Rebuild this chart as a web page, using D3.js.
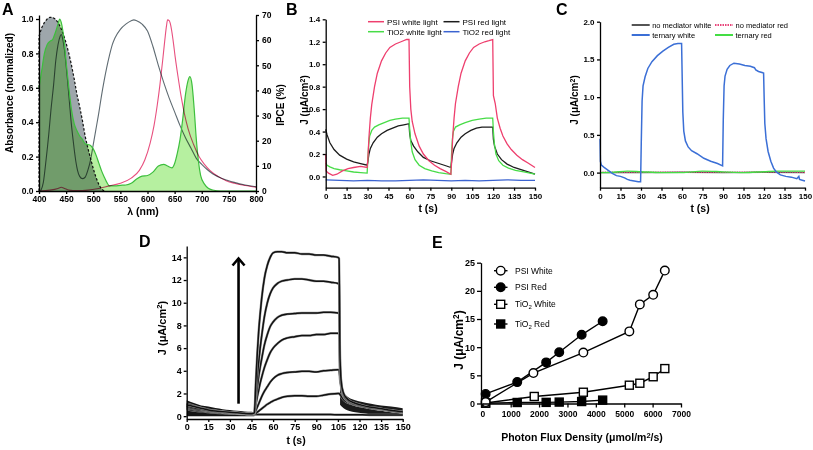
<!DOCTYPE html>
<html><head><meta charset="utf-8">
<script src="https://cdn.jsdelivr.net/npm/d3@7"></script>
<style>body{margin:0;background:#fff;} svg{display:block;background:#fff;}</style>
</head><body>
<script>
// ---------------- DATA ----------------
// Panel A: spectra [wavelength nm, normalized value]
const absTiO2 = [[400,0.9],[405,0.95],[410,0.98],[415,1.0],[420,1.01],[425,1.01],[430,1.0],[435,0.98],[440,0.95],[445,0.91],[450,0.86],[455,0.8],[460,0.73],[465,0.65],[470,0.56],[475,0.49],[480,0.41],[485,0.32],[490,0.25],[495,0.19],[500,0.13],[505,0.08],[510,0.04],[515,0.012],[520,0]];
const absPSI = [[400,0.6],[405,0.7],[410,0.8],[415,0.85],[420,0.87],[425,0.88],[430,0.92],[435,0.97],[438,1.0],[441,0.98],[444,0.93],[447,0.85],[450,0.75],[455,0.6],[460,0.47],[465,0.39],[470,0.35],[475,0.32],[480,0.3],[485,0.275],[490,0.27],[495,0.265],[500,0.245],[505,0.21],[510,0.165],[515,0.12],[520,0.083],[525,0.05],[530,0.03],[540,0.03],[550,0.033],[560,0.035],[570,0.045],[580,0.07],[590,0.087],[600,0.09],[610,0.11],[620,0.145],[630,0.155],[637,0.145],[645,0.135],[650,0.16],[655,0.22],[660,0.3],[665,0.42],[670,0.56],[675,0.645],[678,0.665],[682,0.62],[686,0.48],[690,0.3],[694,0.17],[698,0.09],[705,0.04],[712,0.016],[720,0.006],[735,0],[800,0]];
const ipceGray = [[403,0],[408,0.05],[413,0.18],[418,0.33],[422,0.47],[427,0.62],[431,0.76],[435,0.85],[439,0.9],[441,0.91],[444,0.88],[447,0.82],[450,0.73],[453,0.63],[456,0.52],[459,0.41],[462,0.32],[465,0.24],[468,0.17],[471,0.12],[475,0.085],[480,0.072],[485,0.08],[490,0.12],[495,0.18],[500,0.27],[505,0.36],[510,0.45],[515,0.55],[520,0.64],[525,0.72],[530,0.79],[535,0.85],[540,0.89],[550,0.94],[560,0.97],[570,0.99],[575,0.995],[580,0.99],[590,0.97],[600,0.93],[610,0.84],[620,0.73],[630,0.63],[640,0.54],[650,0.46],[660,0.38],[670,0.31],[680,0.25],[690,0.19],[700,0.155],[710,0.125],[720,0.1],[740,0.07],[760,0.05],[780,0.035],[800,0.025]];
const ipcePink = [[400,0],[420,0.005],[435,0.015],[441,0.022],[447,0.015],[455,0.005],[470,0.002],[490,0.005],[510,0.015],[530,0.03],[550,0.045],[570,0.075],[585,0.12],[595,0.18],[605,0.28],[612,0.38],[618,0.5],[623,0.62],[628,0.76],[632,0.88],[635,0.96],[637,0.995],[640,0.99],[643,0.96],[647,0.88],[651,0.78],[656,0.67],[662,0.55],[668,0.45],[675,0.36],[685,0.27],[695,0.2],[705,0.155],[715,0.12],[730,0.085],[745,0.06],[760,0.045],[780,0.032],[800,0.022]];
const ticksAx = [400,450,500,550,600,650,700,750,800];
const ticksAy = [0,0.2,0.4,0.6,0.8,1.0];
const ticksAy2 = [0,10,20,30,40,50,60,70];

// Panel B: [t (s), J]
const bPsiWhite = [[0,0.2],[0.3,0.05],[2,0.03],[5,0.01],[8,0.02],[12,0.05],[16,0.07],[20,0.08],[25,0.09],[29.7,0.08],[30.2,0.15],[31,0.35],[32,0.52],[33,0.64],[35,0.8],[37,0.92],[40,1.03],[43,1.1],[46,1.15],[50,1.18],[54,1.2],[58,1.22],[59.7,1.22],[60.2,0.8],[61,0.6],[62,0.49],[64,0.38],[67,0.27],[70,0.2],[74,0.14],[78,0.1],[82,0.07],[86,0.045],[89.7,0.02],[90.2,0.12],[91,0.35],[92,0.52],[93,0.65],[95,0.8],[97,0.92],[100,1.03],[103,1.1],[106,1.15],[110,1.18],[114,1.2],[117,1.21],[119.7,1.22],[120.2,0.72],[121.5,0.65],[123,0.52],[125,0.43],[127,0.36],[130,0.29],[133,0.24],[137,0.19],[141,0.15],[145,0.12],[150,0.08]];
const bPsiRed = [[0,0.42],[1,0.37],[3,0.3],[6,0.24],[10,0.19],[15,0.155],[20,0.13],[25,0.115],[29.7,0.1],[30.2,0.13],[31,0.2],[32,0.25],[34,0.3],[37,0.35],[40,0.38],[44,0.41],[48,0.43],[52,0.45],[56,0.46],[59.7,0.47],[60.2,0.38],[61,0.32],[63,0.27],[66,0.22],[70,0.17],[75,0.14],[80,0.12],[85,0.1],[89.7,0.08],[90.2,0.13],[91,0.2],[92,0.25],[94,0.3],[97,0.35],[100,0.38],[104,0.41],[108,0.43],[112,0.44],[116,0.44],[119.7,0.44],[120.2,0.33],[121,0.27],[123,0.2],[126,0.15],[130,0.11],[135,0.08],[140,0.06],[145,0.04],[150,0.02]];
const bTiO2White = [[0,0.12],[1,0.1],[3,0.085],[6,0.07],[10,0.06],[15,0.05],[20,0.04],[25,0.035],[29.7,0.03],[30.2,0.15],[30.8,0.28],[31.5,0.36],[33,0.41],[35,0.44],[38,0.46],[42,0.48],[46,0.5],[50,0.51],[55,0.52],[59.7,0.52],[60.2,0.42],[60.8,0.32],[62,0.22],[64,0.15],[67,0.1],[71,0.07],[76,0.05],[81,0.035],[86,0.025],[89.7,0.02],[90.2,0.2],[90.8,0.33],[91.5,0.4],[93,0.44],[96,0.46],[100,0.48],[105,0.5],[110,0.51],[115,0.52],[119.7,0.52],[120.2,0.4],[120.8,0.3],[122,0.2],[124,0.14],[127,0.1],[131,0.075],[136,0.055],[142,0.04],[150,0.02]];
const bTiO2Red = [[0,-0.03],[10,-0.035],[20,-0.04],[30,-0.035],[40,-0.04],[50,-0.04],[60,-0.035],[70,-0.03],[80,-0.035],[90,-0.04],[100,-0.035],[110,-0.04],[120,-0.035],[130,-0.03],[140,-0.035],[150,-0.035]];
const ticksT = [0,15,30,45,60,75,90,105,120,135,150];
const ticksBy = [0,0.2,0.4,0.6,0.8,1.0,1.2,1.4];
const legendB = ["PSI white light","PSI red light","TiO2 white light","TiO2 red light"];

// Panel C
const cTernaryWhite = [[0,0.45],[0.3,0.15],[1,0.1],[3,0.07],[6,0.03],[9,-0.01],[12,-0.04],[15,-0.05],[18,-0.07],[20,-0.09],[22,-0.1],[25,-0.11],[28,-0.12],[29.7,-0.12],[30.2,0.4],[30.8,0.95],[31.5,1.15],[33,1.27],[35,1.38],[38,1.47],[42,1.55],[46,1.61],[50,1.66],[54,1.7],[57,1.71],[59.7,1.71],[60.1,1.3],[60.6,0.8],[61.3,0.55],[62.5,0.42],[64.5,0.34],[67,0.29],[71,0.25],[76,0.19],[81,0.15],[86,0.12],[89.7,0.09],[90.2,0.7],[90.8,1.15],[91.5,1.28],[93,1.37],[95,1.42],[98,1.45],[102,1.44],[106,1.42],[110,1.41],[113,1.39],[114,1.36],[116,1.34],[119.7,1.32],[120.1,1.0],[120.6,0.65],[121.5,0.45],[123,0.28],[125,0.15],[127,0.06],[129,0.01],[132,-0.03],[136,-0.05],[140,-0.06],[144,-0.08],[145.5,-0.05],[146,-0.09],[148,-0.1],[150,-0.11]];
const cNoMedWhite = [[0,0],[30,0.0],[60,0.005],[90,0.0],[120,0.005],[150,0.0]];
const cNoMedRed = [[0,0.005],[30,0.005],[60,0.005],[90,0.005],[120,0.008],[150,0.005]];
const cTernaryRed = [[0,0.0],[10,0.005],[20,0.02],[30,0.012],[45,0.0],[60,0.0],[75,0.02],[90,0.01],[105,0.0],[120,0.012],[130,0.02],[150,0.02]];
const ticksCy = [0,0.5,1.0,1.5,2.0];
const legendC = ["no mediator white","no mediator red","ternary white","ternary red"];

// Panel D: common time base and 7 traces
const tD = [0,5,10,15,20,25,30,35,40,45,47,48,49,50,51,52,54,56,58,60,63,66,70,75,80,85,90,95,100,105,105.8,106.5,107.5,109,111,114,118,122,127,133,140,150];
const jD1 = [1.0,0.85,0.7,0.55,0.45,0.4,0.35,0.3,0.25,0.22,0.3,3.0,5.5,7.5,9.0,10.3,12.2,13.3,14.0,14.4,14.5,14.5,14.4,14.4,14.3,14.3,14.2,14.2,14.1,14.0,13.9,5.0,2.8,2.0,1.6,1.3,1.1,0.95,0.8,0.7,0.55,0.4];
const jD2 = [0.9,0.75,0.62,0.5,0.42,0.37,0.32,0.28,0.24,0.2,0.3,2.0,3.5,4.8,6.0,7.0,8.8,10.0,10.8,11.3,11.7,11.9,12.0,12.1,12.1,12.0,11.9,11.9,11.8,11.7,11.6,4.5,2.7,1.9,1.5,1.25,1.05,0.9,0.75,0.65,0.5,0.35];
const jD3 = [0.8,0.68,0.56,0.46,0.4,0.35,0.3,0.26,0.22,0.2,0.3,1.5,2.5,3.5,4.3,5.0,6.3,7.2,7.9,8.3,8.7,8.9,9.0,9.05,9.1,9.1,9.1,9.15,9.15,9.1,9.0,4.2,2.6,1.8,1.45,1.2,1.0,0.88,0.75,0.62,0.5,0.35];
const jD4 = [1.1,0.9,0.72,0.58,0.48,0.4,0.34,0.28,0.24,0.2,0.25,1.0,1.7,2.3,2.9,3.4,4.3,5.0,5.6,6.0,6.4,6.7,6.9,7.0,7.1,7.1,7.2,7.2,7.3,7.3,7.2,3.8,2.5,1.8,1.4,1.15,0.95,0.85,0.72,0.6,0.48,0.33];
const jD5 = [0.7,0.6,0.5,0.42,0.36,0.32,0.28,0.24,0.2,0.18,0.2,0.5,0.8,1.1,1.4,1.7,2.2,2.6,3.0,3.3,3.6,3.75,3.85,3.9,3.95,3.95,3.9,4.0,4.05,4.1,4.1,3.2,2.4,1.7,1.4,1.2,1.0,0.88,0.75,0.62,0.5,0.35];
const jD6 = [0.6,0.5,0.42,0.36,0.3,0.27,0.24,0.2,0.18,0.16,0.15,0.25,0.35,0.45,0.55,0.65,0.85,1.05,1.2,1.35,1.5,1.65,1.75,1.8,1.8,1.75,1.75,1.85,1.95,2.0,2.0,1.9,1.7,1.45,1.25,1.1,0.95,0.85,0.75,0.6,0.5,0.35];
const jD7 = [0.9,0.7,0.55,0.45,0.38,0.32,0.28,0.24,0.2,0.18,0.15,0.15,0.15,0.15,0.15,0.15,0.15,0.15,0.15,0.15,0.15,0.15,0.15,0.15,0.15,0.15,0.15,0.15,0.15,0.12,0.12,0.12,0.12,0.12,0.12,0.12,0.12,0.12,0.1,0.1,0.1,0.1];
const bandEarlyD = [[0,1.4,0],[5,1.15,0],[10,0.95,0],[15,0.85,0],[20,0.72,0],[25,0.62,0],[30,0.55,0],[35,0.48,0],[40,0.42,0],[45,0.38,0],[47,0.3,0]];
const bandTailD = [[106.5,2.6,1.0],[108,2.2,0.8],[110,1.9,0.6],[113,1.6,0.45],[117,1.4,0.35],[122,1.25,0.25],[128,1.1,0.15],[135,0.95,0.1],[142,0.85,0.05],[150,0.7,0.02]];
const ticksDy = [0,2,4,6,8,10,12,14];

// Panel E
const fluxPsiWhite = [117,1800,3560,5180,5550,6020,6430];
const jPsiWhite = [0.25,5.4,9.05,12.8,17.6,19.3,23.6];
const fluxPsiRed = [117,1230,2250,2710,3500,4240];
const jPsiRed = [1.7,3.8,7.3,9.1,12.2,14.6];
const fluxTiO2White = [117,1830,3560,5180,5550,6020,6430];
const jTiO2White = [0.1,1.25,2.0,3.25,3.6,4.75,6.2];
const fluxTiO2Red = [117,1230,2250,2710,3500,4240];
const jTiO2Red = [0.05,0.18,0.2,0.25,0.35,0.6];
const ticksEx = [0,1000,2000,3000,4000,5000,6000,7000];
const ticksEy = [0,5,10,15,20,25];

// ---------------- DRAWING ----------------
const FONT = "Arial, 'Liberation Sans', Helvetica, sans-serif";
const svg = d3.select("body").append("svg").attr("width",813).attr("height",450)
  .attr("font-family",FONT);

function styleAxis(g, fs, bold=true){
  g.attr("font-size",fs).attr("font-family",FONT);
  g.select(".domain").attr("stroke","#000").attr("stroke-width",1.3);
  g.selectAll(".tick line").attr("stroke","#000").attr("stroke-width",1.3);
  g.selectAll(".tick text").attr("fill","#000").attr("font-weight",bold?"bold":"normal");
}
function panelLabel(t,x,y){
  svg.append("text").attr("x",x).attr("y",y).attr("font-size",16).attr("font-weight","bold").text(t);
}
function jTitle(x,y,fs){
  const t = svg.append("text").attr("transform",`translate(${x},${y}) rotate(-90)`)
    .attr("text-anchor","middle").attr("font-size",fs).attr("font-weight","bold");
  t.append("tspan").text("J (μA/cm");
  t.append("tspan").attr("dy",-fs*0.35).attr("font-size",fs*0.7).text("2");
  t.append("tspan").attr("dy",fs*0.35).text(")");
}
function xTitle(t,x,y,fs){
  svg.append("text").attr("x",x).attr("y",y).attr("text-anchor","middle")
    .attr("font-size",fs).attr("font-weight","bold").text(t);
}

// ===== Panel A =====
const xA = d3.scaleLinear().domain([400,800]).range([39,256]);
const yA = d3.scaleLinear().domain([0,1.0233]).range([191,15]);
const yA2 = d3.scaleLinear().domain([0,70]).range([191,15]);
const gA = svg.append("g");
const areaA = d3.area().x(d=>xA(d[0])).y0(yA(0)).y1(d=>yA(d[1])).curve(d3.curveMonotoneX);
const lineA = d3.line().x(d=>xA(d[0])).y(d=>yA(d[1])).curve(d3.curveMonotoneX);
gA.append("path").datum(absTiO2).attr("d",areaA).attr("fill","#9ea6ab");
gA.append("path").datum(absPSI).attr("d",areaA).attr("fill","#b6f0a0").style("mix-blend-mode","multiply");
gA.append("path").datum([[400,0]].concat(absTiO2)).attr("d",d3.line().x(d=>xA(d[0])).y(d=>yA(d[1])))
  .attr("fill","none").attr("stroke","#111").attr("stroke-width",1.2).attr("stroke-dasharray","2.5,1.8");
gA.append("path").datum(ipceGray).attr("d",lineA).attr("fill","none").attr("stroke","#5f6b72").attr("stroke-width",1.1).style("mix-blend-mode","multiply");
gA.append("path").datum(absPSI).attr("d",lineA).attr("fill","none").attr("stroke","#3dbf3d").attr("stroke-width",1.2);
gA.append("path").datum(ipcePink).attr("d",lineA).attr("fill","none").attr("stroke","#e8507f").attr("stroke-width",1.1).style("mix-blend-mode","multiply");
styleAxis(svg.append("g").attr("transform","translate(0,191)")
  .call(d3.axisBottom(xA).tickValues(ticksAx).tickSize(3).tickSizeOuter(0).tickPadding(1.5)),8.5);
styleAxis(svg.append("g").attr("transform","translate(39,0)")
  .call(d3.axisLeft(yA).tickValues(ticksAy).tickFormat(d3.format(".1f")).tickSize(3).tickSizeOuter(0).tickPadding(2.5)),8.5);
styleAxis(svg.append("g").attr("transform","translate(256,0)")
  .call(d3.axisRight(yA2).tickValues(ticksAy2).tickSize(3).tickSizeOuter(0).tickPadding(3)),8.5);
svg.append("text").attr("transform","translate(13,93) rotate(-90)").attr("text-anchor","middle")
  .attr("font-size",10).attr("font-weight","bold").text("Absorbance (normalized)");
svg.append("text").attr("transform","translate(284,105) rotate(-90)").attr("text-anchor","middle")
  .attr("font-size",10).attr("font-weight","bold").text("IPCE (%)");
xTitle("λ (nm)",143,215,10.5);
panelLabel("A",2,15);

// ===== Panel B =====
const xB = d3.scaleLinear().domain([0,150]).range([325.7,535]);
const yB = d3.scaleLinear().domain([-0.1,1.4]).range([187.7,19.3]);
const lineB = d3.line().x(d=>xB(d[0])).y(d=>yB(d[1]));
const colB = ["#ee3f6e","#1c1c1c","#47dc47","#3b63d0"];
[bTiO2Red,bPsiRed,bTiO2White,bPsiWhite].forEach((s,i)=>{
  const c = [colB[3],colB[1],colB[2],colB[0]][i];
  svg.append("path").datum(s).attr("d",lineB).attr("fill","none").attr("stroke",c).attr("stroke-width",1.3);
});
styleAxis(svg.append("g").attr("transform","translate(0,187.7)")
  .call(d3.axisBottom(xB).tickValues(ticksT).tickSize(3).tickSizeOuter(0).tickPadding(2.5)),8);
styleAxis(svg.append("g").attr("transform","translate(325.7,0)")
  .call(d3.axisLeft(yB).tickValues(ticksBy).tickFormat(d3.format(".1f")).tickSize(3).tickSizeOuter(0).tickPadding(2.5)),8);
jTitle(308,100,10);
xTitle("t (s)",428,212,10.5);
panelLabel("B",286,15);
legendB.forEach((name,i)=>{
  const lx = i%2===0 ? 368 : 443.5, ly = i<2 ? 21.7 : 31.7;
  svg.append("line").attr("x1",lx).attr("x2",lx+16).attr("y1",ly).attr("y2",ly)
    .attr("stroke",colB[i]).attr("stroke-width",1.5);
  svg.append("text").attr("x",lx+19).attr("y",ly).attr("dy","0.35em").attr("font-size",8).text(name);
});

// ===== Panel C =====
const xC = d3.scaleLinear().domain([0,150]).range([600,805]);
const yC = d3.scaleLinear().domain([-0.2,2.0]).range([187.7,21.7]);
const lineC = d3.line().x(d=>xC(d[0])).y(d=>yC(d[1]));
const colC = ["#555","#e8457a","#3b6fd6","#44dd44"];
svg.append("path").datum(cNoMedWhite).attr("d",lineC).attr("fill","none").attr("stroke",colC[0]).attr("stroke-width",1.4);
svg.append("path").datum(cNoMedRed).attr("d",lineC).attr("fill","none").attr("stroke",colC[1]).attr("stroke-width",1.4).attr("stroke-dasharray","1.2,1.2");
svg.append("path").datum(cTernaryRed).attr("d",lineC.curve(d3.curveMonotoneX)).attr("fill","none").attr("stroke",colC[3]).attr("stroke-width",1.4);
svg.append("path").datum(cTernaryWhite).attr("d",d3.line().x(d=>xC(d[0])).y(d=>yC(d[1]))).attr("fill","none").attr("stroke",colC[2]).attr("stroke-width",1.5);
styleAxis(svg.append("g").attr("transform","translate(0,187.7)")
  .call(d3.axisBottom(xC).tickValues(ticksT).tickSize(3).tickSizeOuter(0).tickPadding(2.5)),8);
styleAxis(svg.append("g").attr("transform","translate(600,0)")
  .call(d3.axisLeft(yC).tickValues(ticksCy).tickFormat(d3.format(".1f")).tickSize(3).tickSizeOuter(0).tickPadding(2.5)),8);
jTitle(578,100,10);
xTitle("t (s)",700,212,10.5);
panelLabel("C",556,15);
legendC.forEach((name,i)=>{
  const lx = i%2===0 ? 631.7 : 715, ly = i<2 ? 25 : 35;
  const ln = svg.append("line").attr("x1",lx).attr("x2",lx+18).attr("y1",ly).attr("y2",ly)
    .attr("stroke",colC[i]).attr("stroke-width",2);
  if(i===1) ln.attr("stroke-dasharray","1.5,1");
  svg.append("text").attr("x",lx+20.5).attr("y",ly).attr("dy","0.35em").attr("font-size",7.5).text(name);
});

// ===== Panel D =====
const xD = d3.scaleLinear().domain([0,150]).range([186.7,402.7]);
const yD = d3.scaleLinear().domain([-0.25,15]).range([419,246]);
const bandArea = d3.area().x(d=>xD(d[0])).y0(d=>yD(d[2])).y1(d=>yD(d[1])).curve(d3.curveMonotoneX);
svg.append("path").datum(bandEarlyD).attr("d",bandArea).attr("fill","#151515");
svg.append("path").datum(bandTailD).attr("d",bandArea).attr("fill","#1a1a1a");
const lineD = d3.line().x((d,i)=>xD(tD[i])).y(d=>yD(d)).curve(d3.curveMonotoneX);
[jD7,jD6,jD5,jD4,jD3,jD2,jD1].forEach(s=>{
  svg.append("path").datum(s).attr("d",lineD).attr("fill","none").attr("stroke","#999").attr("stroke-width",2.4);
  svg.append("path").datum(s).attr("d",lineD).attr("fill","none").attr("stroke","#111").attr("stroke-width",1.5);
});
// arrow
const ax = xD(36);
svg.append("line").attr("x1",ax).attr("x2",ax).attr("y1",yD(1.1)).attr("y2",yD(13.9))
  .attr("stroke","#000").attr("stroke-width",2.6);
svg.append("path").attr("d",`M${ax-6},${yD(13.9)+7} L${ax},${yD(13.9)} L${ax+6},${yD(13.9)+7}`)
  .attr("fill","none").attr("stroke","#000").attr("stroke-width",2.6);
styleAxis(svg.append("g").attr("transform","translate(0,419)")
  .call(d3.axisBottom(xD).tickValues(ticksT).tickSize(3).tickSizeOuter(0).tickPadding(2)),9);
styleAxis(svg.append("g").attr("transform","translate(186.7,0)")
  .call(d3.axisLeft(yD).tickValues(ticksDy).tickSize(3).tickSizeOuter(0).tickPadding(2)),9);
jTitle(166,328,11);
xTitle("t (s)",296,444,10.5);
panelLabel("D",139,247);

// ===== Panel E =====
const xE = d3.scaleLinear().domain([0,7000]).range([482.3,681]);
const yE = d3.scaleLinear().domain([0,25]).range([403.5,262.7]);
const lineE = d3.line().x(d=>xE(d[0])).y(d=>yE(d[1]));
const seriesE = [
  {name:"TiO2 Red", x:fluxTiO2Red, y:jTiO2Red, shape:"square", fill:"#000"},
  {name:"TiO2 White", x:fluxTiO2White, y:jTiO2White, shape:"square", fill:"#fff"},
  {name:"PSI Red", x:fluxPsiRed, y:jPsiRed, shape:"circle", fill:"#000"},
  {name:"PSI White", x:fluxPsiWhite, y:jPsiWhite, shape:"circle", fill:"#fff"}
];
function marker(g,shape,fill,cx,cy){
  if(shape==="circle") g.append("circle").attr("cx",cx).attr("cy",cy).attr("r",4.3)
    .attr("fill",fill).attr("stroke","#000").attr("stroke-width",1.4);
  else g.append("rect").attr("x",cx-4).attr("y",cy-4).attr("width",8).attr("height",8)
    .attr("fill",fill).attr("stroke","#000").attr("stroke-width",1.4);
}
seriesE.forEach(s=>{
  const pts = s.x.map((v,i)=>[v,s.y[i]]);
  svg.append("path").datum(pts).attr("d",lineE).attr("fill","none").attr("stroke","#000").attr("stroke-width",1.4);
});
seriesE.forEach(s=>{
  const g = svg.append("g");
  s.x.forEach((v,i)=>marker(g,s.shape,s.fill,xE(v),yE(s.y[i])));
});
styleAxis(svg.append("g").attr("transform","translate(0,403.5)")
  .call(d3.axisBottom(xE).tickValues(ticksEx).tickFormat(d3.format("d")).tickSize(4).tickSizeOuter(0).tickPadding(3)),8.5);
styleAxis(svg.append("g").attr("transform","translate(481,0)")
  .call(d3.axisLeft(yE).tickValues(ticksEy).tickSize(4).tickSizeOuter(0).tickPadding(2)),9);
jTitle(463,340,12);
{
  const t = svg.append("text").attr("x",582).attr("y",441).attr("text-anchor","middle")
    .attr("font-size",10.5).attr("font-weight","bold");
  t.append("tspan").text("Photon Flux Density (μmol/m");
  t.append("tspan").attr("dy",-3.5).attr("font-size",7.5).text("2");
  t.append("tspan").attr("dy",3.5).text("/s)");
}
panelLabel("E",432,248);
// legend E
const legE = [
  {label:["PSI White"], shape:"circle", fill:"#fff", y:270.7},
  {label:["PSI Red"], shape:"circle", fill:"#000", y:287.3},
  {label:["TiO","2"," White"], shape:"square", fill:"#fff", y:304.3},
  {label:["TiO","2"," Red"], shape:"square", fill:"#000", y:324}
];
legE.forEach(l=>{
  svg.append("line").attr("x1",494).attr("x2",507.5).attr("y1",l.y).attr("y2",l.y).attr("stroke","#000").attr("stroke-width",1.4);
  marker(svg,l.shape,l.fill,500.7,l.y);
  const t = svg.append("text").attr("x",515).attr("y",l.y).attr("dy","0.35em").attr("font-size",8.5);
  t.append("tspan").text(l.label[0]);
  if(l.label.length>1){
    t.append("tspan").attr("dy",2).attr("font-size",6).text(l.label[1]);
    t.append("tspan").attr("dy",-2).text(l.label[2]);
  }
});
</script></body></html>
